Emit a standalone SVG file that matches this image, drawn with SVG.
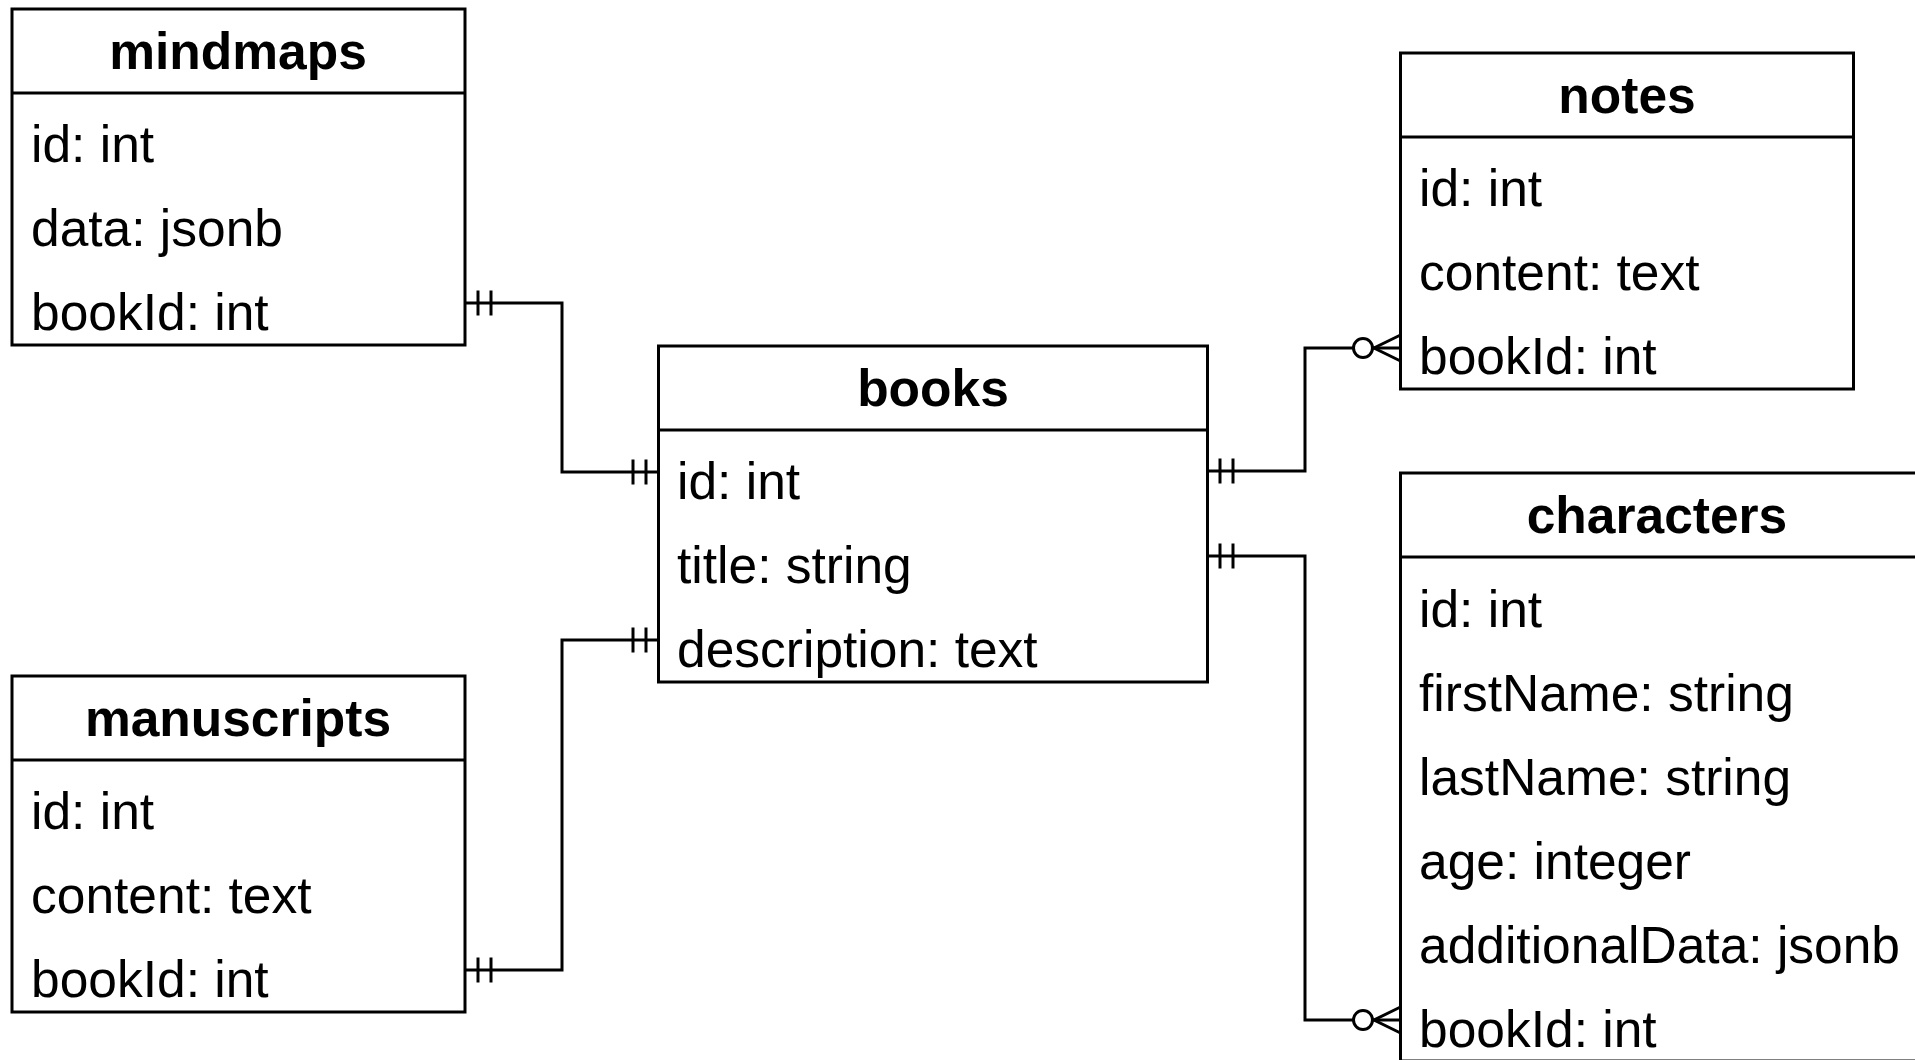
<svg xmlns="http://www.w3.org/2000/svg" width="1915" height="1060" viewBox="0 0 1915 1060">
<style>
  .box { fill: #ffffff; stroke: #000000; stroke-width: 3; }
  .sep { stroke: #000000; stroke-width: 3; fill: none; }
  .title { font-family: "Liberation Sans", Arial, Helvetica, sans-serif; font-size: 51.5px; font-weight: bold; fill: #000000; text-anchor: middle; }
  .row { font-family: "Liberation Sans", Arial, Helvetica, sans-serif; font-size: 51.5px; fill: #000000; }
  .edge { fill: none; stroke: #000000; stroke-width: 3; }
  .circ { fill: #ffffff; stroke: #000000; stroke-width: 3; }
</style>
<rect width="1915" height="1060" fill="#ffffff"/>

<g id="mindmaps">
  <rect class="box" x="12" y="9" width="453" height="336"/>
  <line class="sep" x1="12" y1="93" x2="465" y2="93"/>
  <text class="title" x="238" y="69">mindmaps</text>
  <text class="row" x="31" y="162">id: int</text>
  <text class="row" x="31" y="246">data: jsonb</text>
  <text class="row" x="31" y="330">bookId: int</text>
</g>

<g id="manuscripts">
  <rect class="box" x="12" y="676" width="453" height="336"/>
  <line class="sep" x1="12" y1="760" x2="465" y2="760"/>
  <text class="title" x="238" y="736">manuscripts</text>
  <text class="row" x="31" y="829">id: int</text>
  <text class="row" x="31" y="913">content: text</text>
  <text class="row" x="31" y="997">bookId: int</text>
</g>

<g id="books">
  <rect class="box" x="658.5" y="346" width="549" height="336"/>
  <line class="sep" x1="658.5" y1="430" x2="1207.5" y2="430"/>
  <text class="title" x="933" y="406">books</text>
  <text class="row" x="677" y="499">id: int</text>
  <text class="row" x="677" y="583">title: string</text>
  <text class="row" x="677" y="667">description: text</text>
</g>

<g id="notes">
  <rect class="box" x="1400.5" y="53" width="453" height="336"/>
  <line class="sep" x1="1400.5" y1="137" x2="1853.5" y2="137"/>
  <text class="title" x="1627" y="113">notes</text>
  <text class="row" x="1419" y="206">id: int</text>
  <text class="row" x="1419" y="290">content: text</text>
  <text class="row" x="1419" y="374">bookId: int</text>
</g>

<g id="characters">
  <rect class="box" x="1400.5" y="473" width="520" height="588"/>
  <line class="sep" x1="1400.5" y1="557" x2="1920" y2="557"/>
  <text class="title" x="1657" y="533">characters</text>
  <text class="row" x="1419" y="627">id: int</text>
  <text class="row" x="1419" y="711">firstName: string</text>
  <text class="row" x="1419" y="795">lastName: string</text>
  <text class="row" x="1419" y="879">age: integer</text>
  <text class="row" x="1419" y="963">additionalData: jsonb</text>
  <text class="row" x="1419" y="1047">bookId: int</text>
</g>

<g id="connectors">
  <!-- mindmaps.bookId - books.id -->
  <polyline class="edge" points="465,303 562,303 562,472 658.5,472"/>
  <line class="edge" x1="478" y1="290.5" x2="478" y2="315.5"/>
  <line class="edge" x1="491" y1="290.5" x2="491" y2="315.5"/>
  <line class="edge" x1="633" y1="459.5" x2="633" y2="484.5"/>
  <line class="edge" x1="646" y1="459.5" x2="646" y2="484.5"/>

  <!-- manuscripts.bookId - books.description -->
  <polyline class="edge" points="465,970 562,970 562,640 658.5,640"/>
  <line class="edge" x1="478" y1="957.5" x2="478" y2="982.5"/>
  <line class="edge" x1="491" y1="957.5" x2="491" y2="982.5"/>
  <line class="edge" x1="633" y1="627.5" x2="633" y2="652.5"/>
  <line class="edge" x1="646" y1="627.5" x2="646" y2="652.5"/>

  <!-- books.id - notes.bookId -->
  <polyline class="edge" points="1207.5,471 1305,471 1305,348 1400.5,348"/>
  <line class="edge" x1="1220" y1="458.5" x2="1220" y2="483.5"/>
  <line class="edge" x1="1233" y1="458.5" x2="1233" y2="483.5"/>
  <circle class="circ" cx="1363" cy="348" r="9.5"/>
  <polyline class="edge" points="1400.5,335 1374,348 1400.5,361"/>

  <!-- books.title - characters.bookId -->
  <polyline class="edge" points="1207.5,556 1305,556 1305,1020 1400.5,1020"/>
  <line class="edge" x1="1220" y1="543.5" x2="1220" y2="568.5"/>
  <line class="edge" x1="1233" y1="543.5" x2="1233" y2="568.5"/>
  <circle class="circ" cx="1363" cy="1020" r="9.5"/>
  <polyline class="edge" points="1400.5,1007 1374,1020 1400.5,1033"/>
</g>
</svg>
